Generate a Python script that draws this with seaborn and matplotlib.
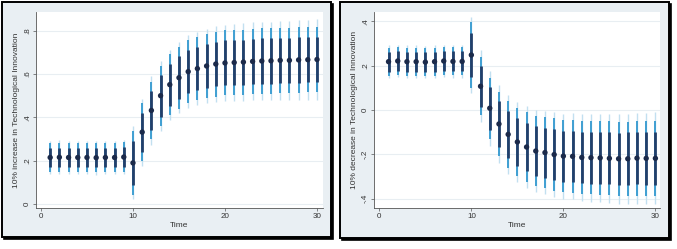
import matplotlib
matplotlib.use("Agg")
import matplotlib.pyplot as plt
from matplotlib.patches import Rectangle
import numpy as np
import seaborn as sns

# periods
time = list(range(1, 31))

# 10% increase: point estimates and half-widths of the three bands
inc_est = [0.215, 0.216, 0.215, 0.215, 0.215, 0.214, 0.215, 0.215, 0.217, 0.190,
           0.332, 0.432, 0.500, 0.551, 0.583, 0.611, 0.625, 0.637, 0.646, 0.651,
           0.653, 0.655, 0.658, 0.660, 0.661, 0.663, 0.663, 0.665, 0.666, 0.667]
inc_dark = [0.045, 0.045, 0.045, 0.045, 0.045, 0.045, 0.045, 0.045, 0.045, 0.100,
            0.090, 0.090, 0.096, 0.097, 0.098, 0.100, 0.100, 0.100, 0.103, 0.104,
            0.104, 0.104, 0.105, 0.105, 0.105, 0.105, 0.105, 0.105, 0.105, 0.105]
inc_mid = [0.068, 0.068, 0.068, 0.068, 0.068, 0.068, 0.068, 0.068, 0.068, 0.146,
           0.134, 0.131, 0.138, 0.140, 0.143, 0.145, 0.147, 0.148, 0.150, 0.150,
           0.150, 0.150, 0.151, 0.151, 0.151, 0.151, 0.151, 0.151, 0.151, 0.151]
inc_light = [0.078, 0.078, 0.078, 0.078, 0.078, 0.078, 0.078, 0.078, 0.078, 0.168,
             0.155, 0.160, 0.162, 0.161, 0.163, 0.168, 0.170, 0.172, 0.175, 0.176,
             0.177, 0.178, 0.180, 0.180, 0.181, 0.182, 0.182, 0.183, 0.184, 0.185]

# 10% decrease
dec_est = [0.218, 0.221, 0.218, 0.218, 0.216, 0.218, 0.221, 0.219, 0.219, 0.248,
           0.107, 0.008, -0.063, -0.110, -0.144, -0.167, -0.185, -0.192, -0.201, -0.208,
           -0.209, -0.214, -0.215, -0.216, -0.218, -0.220, -0.220, -0.217, -0.218, -0.218]
dec_dark = [0.045, 0.045, 0.045, 0.045, 0.045, 0.045, 0.045, 0.045, 0.045, 0.100,
            0.093, 0.096, 0.105, 0.107, 0.108, 0.110, 0.112, 0.113, 0.114, 0.115,
            0.116, 0.116, 0.117, 0.117, 0.118, 0.118, 0.119, 0.119, 0.120, 0.120]
dec_mid = [0.063, 0.063, 0.063, 0.063, 0.063, 0.063, 0.063, 0.063, 0.063, 0.150,
           0.130, 0.138, 0.145, 0.150, 0.155, 0.158, 0.160, 0.162, 0.163, 0.164,
           0.165, 0.165, 0.166, 0.167, 0.167, 0.168, 0.168, 0.169, 0.169, 0.170]
dec_light = [0.073, 0.073, 0.073, 0.073, 0.073, 0.073, 0.073, 0.073, 0.073, 0.173,
             0.163, 0.169, 0.175, 0.178, 0.180, 0.183, 0.185, 0.188, 0.190, 0.192,
             0.194, 0.196, 0.198, 0.200, 0.201, 0.202, 0.204, 0.205, 0.206, 0.207]

sns.set_style("white")
plt.rcParams['font.family'] = ['Liberation Sans', 'DejaVu Sans']

W, H = 677, 249
fig = plt.figure(figsize=(W / 100, H / 100), dpi=100)
fig.patch.set_facecolor("white")

def px_rect(x0, y0, x1, y1):
    return [x0 / W, 1 - y1 / H, (x1 - x0) / W, (y1 - y0) / H]

# panel frames (drawn beneath the axes)
for (x0, y0, x1, y1) in [(2, 2, 331, 237), (340, 2, 669, 238)]:
    fig.patches.append(Rectangle((x0 / W + 2 / W, 1 - y1 / H - 2 / H), (x1 - x0) / W, (y1 - y0) / H,
                                 transform=fig.transFigure, facecolor="black", edgecolor="black",
                                 lw=1.2, zorder=-2))
    fig.patches.append(Rectangle((x0 / W, 1 - y1 / H), (x1 - x0) / W, (y1 - y0) / H,
                                 transform=fig.transFigure, facecolor="#e9eff3", edgecolor="black",
                                 lw=1.4, zorder=-1))

panels = [
    (px_rect(36, 12, 323, 208), inc_est, inc_dark, inc_mid, inc_light,
     (-0.54, 30.65), (-0.018, 0.886), [0, 0.2, 0.4, 0.6, 0.8], ["0", ".2", ".4", ".6", ".8"],
     "10% increase in Technological Innovation"),
    (px_rect(374, 12, 660, 208), dec_est, dec_dark, dec_mid, dec_light,
     (-0.58, 30.5), (-0.442, 0.442), [-0.4, -0.2, 0, 0.2, 0.4], ["-.4", "-.2", "0", ".2", ".4"],
     "10% decrease in Technological Innovation"),
]

for rect, est, dark, mid, light, xlim, ylim, yt, ytl, ylab in panels:
    ax = fig.add_axes(rect)
    ax.set_zorder(1)
    ax.set_facecolor("white")
    est_a = np.array(est)
    ax.vlines(time, est_a - np.array(light), est_a + np.array(light), color="#c2e0f0", lw=1.0, zorder=2)
    ax.vlines(time, est_a - np.array(mid), est_a + np.array(mid), color="#3f9fd2", lw=1.4, zorder=3)
    ax.vlines(time, est_a - np.array(dark), est_a + np.array(dark), color="#223f6a", lw=2.0, zorder=4)
    sns.scatterplot(x=time, y=est, ax=ax, color="#1b2a4a", s=15, edgecolor="none", zorder=5)
    ax.set_xlim(*xlim)
    ax.set_ylim(*ylim)
    ax.set_xticks([0, 10, 20, 30])
    ax.set_yticks(yt)
    ax.set_yticklabels(ytl, rotation=90, va="center")
    ax.yaxis.grid(True, color="#e8eef2", lw=0.8)
    ax.set_axisbelow(True)
    for s in ["top", "right"]:
        ax.spines[s].set_visible(False)
    for s in ["left", "bottom"]:
        ax.spines[s].set_color("#555555")
        ax.spines[s].set_linewidth(0.6)
    ax.tick_params(axis="both", length=2.2, width=0.5, color="#555555", labelsize=5.8,
                   labelcolor="#333333", pad=1.5, direction="out", left=True, bottom=True)
    ax.set_xlabel("Time", fontsize=6, color="#333333", labelpad=1)
    ax.set_ylabel(ylab, fontsize=6, color="#333333", labelpad=3)

fig.savefig("out.png", dpi=100, facecolor="white")
